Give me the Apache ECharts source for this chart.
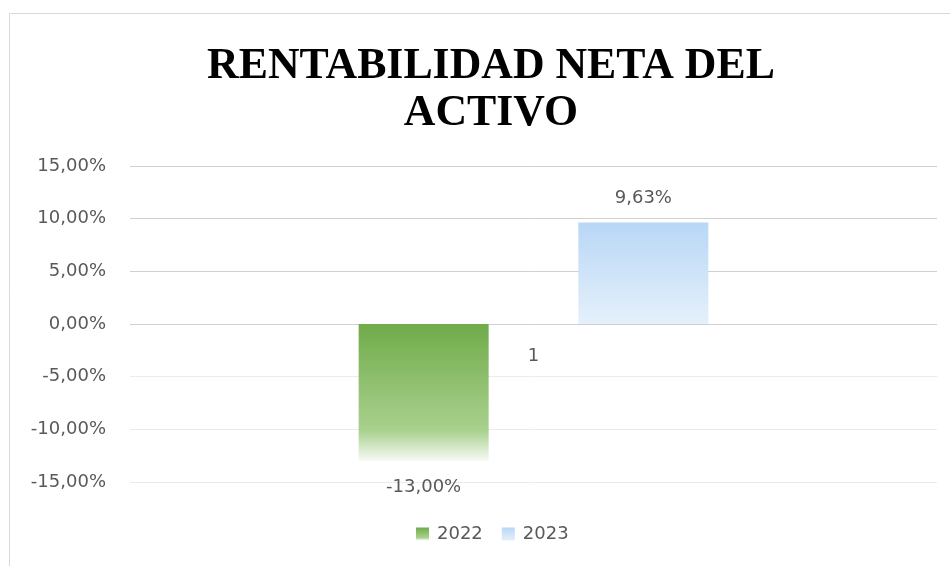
<!DOCTYPE html>
<html>
<head>
<meta charset="utf-8">
<script src="https://cdn.jsdelivr.net/npm/echarts@6/dist/echarts.min.js"></script>
<style>
  html, body { margin: 0; padding: 0; background: #fff; }
  #chart { width: 950px; height: 566px; }
</style>
</head>
<body>
<div id="chart"></div>
<script>
// datos
const categories = ['1'];
const years = ['2022', '2023'];
const values2022 = [-13.0];
const values2023 = [9.63];
const yTicks = [-15, -10, -5, 0, 5, 10, 15];

const fmt = (v) => v.toFixed(2).replace('.', ',') + '%';
const txt = '#595959';
const font = 'DejaVu Sans';

const chart = echarts.init(document.getElementById('chart'));
const option = {
  animation: false,
  graphic: [
    {
      type: 'rect',
      shape: { x: 9.5, y: 13.5, width: 1000, height: 600 },
      style: { fill: 'none', stroke: '#d9d9d9', lineWidth: 1 },
      silent: true,
    },
  ],
  title: {
    text: 'RENTABILIDAD NETA DEL\nACTIVO',
    left: 486,
    top: 38,
    textAlign: 'center',
    textStyle: {
      fontFamily: 'Liberation Serif',
      fontWeight: 'bold',
      fontSize: 43.8,
      lineHeight: 47,
      color: '#000',
    },
  },
  legend: {
    data: years,
    left: 411,
    top: 520,
    itemWidth: 13,
    itemHeight: 13,
    itemGap: 19,
    icon: 'rect',
    textStyle: { fontFamily: font, fontSize: 18, color: txt, padding: [0, 0, 0, 3] },
  },
  grid: { left: 130, right: 13, top: 166, bottom: 84 },
  xAxis: {
    type: 'category',
    data: categories,
    // la etiqueta va pegada a la linea del cero
    offset: -158,
    axisLine: { show: false, onZero: false },
    axisTick: { show: false },
    axisLabel: { fontFamily: font, fontSize: 18, color: txt, margin: 23 },
  },
  yAxis: {
    type: 'value',
    min: yTicks[0],
    max: yTicks[yTicks.length - 1],
    interval: 5,
    axisLine: { show: false },
    axisTick: { show: false },
    axisLabel: {
      fontFamily: font,
      fontSize: 18,
      color: txt,
      margin: 24,
      formatter: (v) => fmt(v),
    },
    splitLine: {
      lineStyle: {
        color: ['#ebebeb', '#ebebeb', '#ebebeb', '#d0d0d0', '#d0d0d0', '#d0d0d0', '#d0d0d0'],
        width: 1,
      },
    },
  },
  series: [
    {
      name: years[0],
      type: 'bar',
      data: values2022,
      barWidth: 130,
      barGap: '69%',
      itemStyle: {
        color: new echarts.graphic.LinearGradient(0, 0, 0, 1, [
          { offset: 0, color: '#70ab4a' },
          { offset: 0.78, color: '#a9d18e' },
          { offset: 1, color: '#f7faf5' },
        ]),
      },
      label: {
        show: true,
        position: 'bottom',
        distance: 17,
        fontFamily: font,
        fontSize: 18,
        color: txt,
        formatter: (p) => fmt(p.value),
      },
    },
    {
      name: years[1],
      type: 'bar',
      data: values2023,
      barWidth: 130,
      itemStyle: {
        color: new echarts.graphic.LinearGradient(0, 0, 0, 1, [
          { offset: 0, color: '#b8d7f6' },
          { offset: 1, color: '#e5f0fb' },
        ]),
      },
      label: {
        show: true,
        position: 'top',
        distance: 15,
        fontFamily: font,
        fontSize: 18,
        color: txt,
        formatter: (p) => fmt(p.value),
      },
    },
  ],
};
chart.setOption(option);
</script>
</body>
</html>
